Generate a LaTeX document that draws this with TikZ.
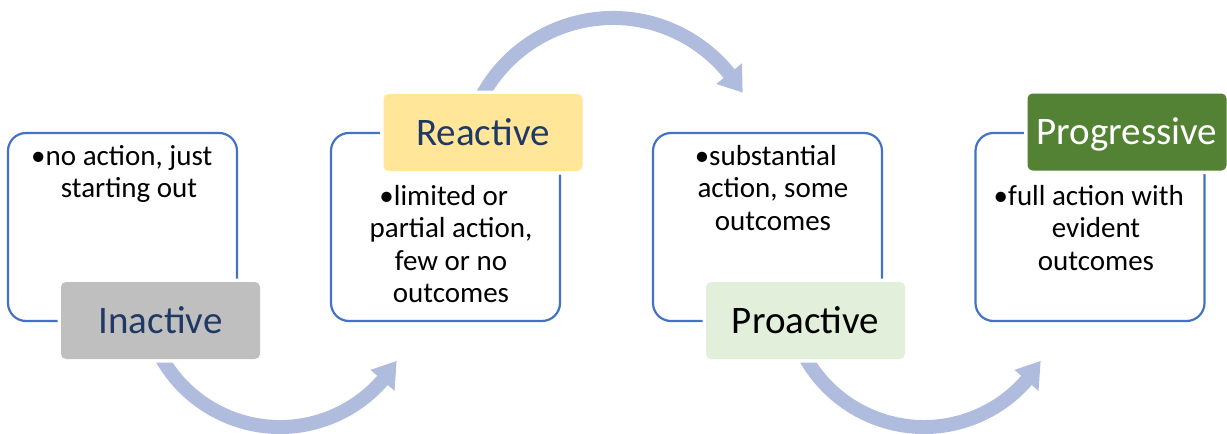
\documentclass[tikz,border=0pt]{standalone}
\usepackage{fontspec}
\setmainfont{Carlito}
\definecolor{outlineblue}{HTML}{4472C4}
\definecolor{arrowblue}{RGB}{175,188,222}
\definecolor{navy}{HTML}{1F3864}
\definecolor{greyfill}{HTML}{BFBFBF}
\definecolor{yellowfill}{HTML}{FFE699}
\definecolor{mintfill}{HTML}{E2EFDA}
\definecolor{greenfill}{HTML}{548235}
\tikzset{
  stagebox/.style={draw=outlineblue, line width=2.2pt, rounded corners=18pt,
    minimum width=229pt, minimum height=188pt, inner sep=0pt},
  stagelabel/.style={rounded corners=5pt, minimum width=199pt, minimum height=77pt,
    inner sep=0pt, text height=25pt, text depth=0pt,
    font=\fontsize{39}{47}\selectfont,
    preaction={draw=white, line width=7pt}},
  % anchored on the baseline of the last line
  bullettext/.style={align=center, inner sep=0pt, anchor=base,
    font=\fontsize{29}{32.5}\selectfont},
  flow/.style={draw=arrowblue, line width=14pt},
  flowhead/.style={fill=arrowblue},
}
\begin{document}
\begin{tikzpicture}[x=1pt, y=-1pt]
\useasboundingbox (0,0) rectangle (1227,434);

% outlined stage boxes
\node[stagebox] (b1) at (122.5,227) {};
\node[stagebox] (b2) at (445.5,227) {};
\node[stagebox] (b3) at (767.5,227) {};
\node[stagebox] (b4) at (1090,227) {};

% bullet texts
\node[bullettext] (t1) at (129,197.5) {\llap{•}no action, just\\starting out};
\node[bullettext] (t2) at (451,302.5) {\llap{•}limited or\\partial action,\\few or no\\outcomes};
\node[bullettext] (t3) at (773,230) {\llap{•}substantial\\action, some\\outcomes};
\node[bullettext] (t4) at (1096,270) {\llap{•}full action with\\evident\\outcomes};

% curved arrows between the stages
\begin{scope}[shift={(280,291)}]
  \draw[flow] (156:136) arc[start angle=156, end angle=40, radius=136];
  \fill[flowhead] (41.1:120) -- (31:136) -- (41.1:152) -- cycle;
\end{scope}
\begin{scope}[shift={(613,167)}]
  \draw[flow] (205:149) arc[start angle=205, end angle=322.2, radius=149];
  \fill[flowhead] (321.2:132.5) -- (330.1:149.5) -- (321.2:165.5) -- cycle;
\end{scope}
\begin{scope}[shift={(924,291)}]
  \draw[flow] (156:136) arc[start angle=156, end angle=40, radius=136];
  \fill[flowhead] (41.1:120) -- (31:136) -- (41.1:152) -- cycle;
\end{scope}

% stage labels
\node[stagelabel, fill=greyfill, text=navy] (l1) at (160.5,320.5) {Inactive};
\node[stagelabel, fill=yellowfill, text=navy] (l2) at (483,132.5) {Reactive};
\node[stagelabel, fill=mintfill, text=black] (l3) at (805.5,320.5) {Proactive};
\node[stagelabel, fill=greenfill, text=white] (l4) at (1127,132) {Progressive};
\end{tikzpicture}
\end{document}
